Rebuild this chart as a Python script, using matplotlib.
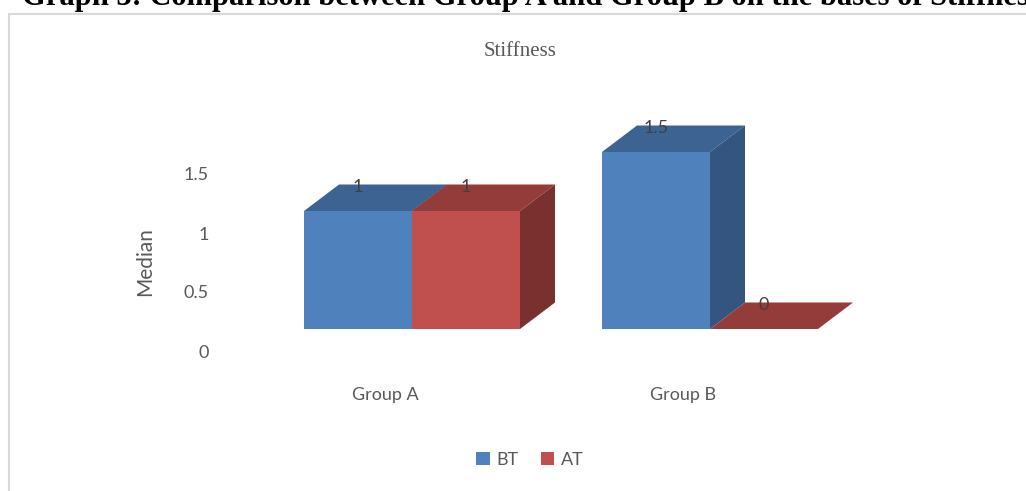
import matplotlib
matplotlib.use("Agg")
import matplotlib.pyplot as plt
import matplotlib.transforms as mtransforms
from matplotlib.patches import Polygon, Rectangle, Patch

# Data
groups = ['Group A', 'Group B']
bt_values = [1, 1.5]
at_values = [1, 0]
series_names = ['BT', 'AT']
y_ticks = [0, 0.5, 1, 1.5]

# Colours (front, top, side) like the Excel 3D look
BT_COLORS = ('#4F81BD', '#3D6393', '#34557F')
AT_COLORS = ('#C0504D', '#943C39', '#7A302E')
TEXT_GRAY = '#595959'

plt.rcParams['font.family'] = ['Lato', 'DejaVu Sans']

W, H = 1026, 491
fig = plt.figure(figsize=(W / 100, H / 100), dpi=100)

# axes placed in pixel terms
ax_l, ax_r, ax_t, ax_b = 220, 960, 100, 370
ax = fig.add_axes([ax_l / W, 1 - ax_b / H, (ax_r - ax_l) / W, (ax_b - ax_t) / H])

px_per_x = 298.0   # pixels per category unit
px_per_y = 118.0   # pixels per value unit
x0_px = 412        # pixel position of category 0
y0_px = 329        # pixel position of value 0
ax.set_xlim((ax_l - x0_px) / px_per_x, (ax_r - x0_px) / px_per_x)
ax.set_ylim((y0_px - ax_b) / px_per_y, (y0_px - ax_t) / px_per_y)

bar_w = 108 / px_per_x
ddx = 35 / px_per_x   # depth offset in data units
ddy = 26.5 / px_per_y


def draw_bar(x_left, h, colors, z):
    front, top, side = colors
    if h > 0:
        ax.bar(x_left, h, width=bar_w, align='edge', color=front, lw=0, zorder=z)
    ax.add_patch(Polygon([(x_left, h), (x_left + bar_w, h),
                          (x_left + bar_w + ddx, h + ddy), (x_left + ddx, h + ddy)],
                         closed=True, facecolor=top, lw=0, zorder=z))
    if h > 0:
        ax.add_patch(Polygon([(x_left + bar_w, 0), (x_left + bar_w + ddx, ddy),
                              (x_left + bar_w + ddx, h + ddy), (x_left + bar_w, h)],
                             closed=True, facecolor=side, lw=0, zorder=z))


for i, (bt, at) in enumerate(zip(bt_values, at_values)):
    draw_bar(i - bar_w, bt, BT_COLORS, 2 + i * 2)
    draw_bar(i, at, AT_COLORS, 3 + i * 2)
    # data labels on the back edge of the top face
    for x_left, v in [(i - bar_w, bt), (i, at)]:
        ax.text(x_left + bar_w / 2, v + ddy - 0.02, f'{v:g}', ha='center', va='center',
                fontsize=13, color='#404040', zorder=10)

for s in ax.spines.values():
    s.set_visible(False)
ax.tick_params(length=0, colors=TEXT_GRAY, labelsize=13)

ax.set_yticks(y_ticks)
ax.set_yticklabels([f'{t:g}' for t in y_ticks])
ax.tick_params(axis='y', pad=8)
shift_y = mtransforms.ScaledTranslation(0, -0.22, fig.dpi_scale_trans)
for lbl in ax.get_yticklabels():
    lbl.set_transform(lbl.get_transform() + shift_y)

ax.set_xticks(range(len(groups)))
ax.set_xticklabels(groups)
ax.tick_params(axis='x', pad=12)
shift_x = mtransforms.ScaledTranslation(-0.27, 0, fig.dpi_scale_trans)
for lbl in ax.get_xticklabels():
    lbl.set_transform(lbl.get_transform() + shift_x)

fig.text(145 / W, 1 - 262 / H, 'Median', rotation=90, ha='center', va='center',
         fontsize=15, color=TEXT_GRAY)
fig.text(520 / W, 1 - 52 / H, 'Stiffness', ha='center', va='center',
         fontsize=15, color=TEXT_GRAY, family='Liberation Serif')

# caption above the chart, cut by the top edge like in the source
fig.text(22 / W, 1 - 5 / H,
         'Graph 3: Comparison between Group A and Group B on the bases of Stiffness',
         ha='left', va='baseline', fontsize=22, fontweight='bold',
         family='Liberation Serif', color='black')

# chart frame
fig.add_artist(Rectangle((9 / W, -0.1), 1.2, 1 - 14 / H + 0.1, transform=fig.transFigure,
                         fill=False, edgecolor='#D9D9D9', lw=1.5))

handles = [Patch(facecolor=BT_COLORS[0]), Patch(facecolor=AT_COLORS[0])]
fig.legend(handles, series_names, loc='center', bbox_to_anchor=(530 / W, 1 - 460 / H),
           ncol=2, frameon=False, fontsize=13, handlelength=0.75, handleheight=0.75,
           handletextpad=0.4, columnspacing=1.2, labelcolor=TEXT_GRAY)

fig.savefig('out.png', dpi=100)
